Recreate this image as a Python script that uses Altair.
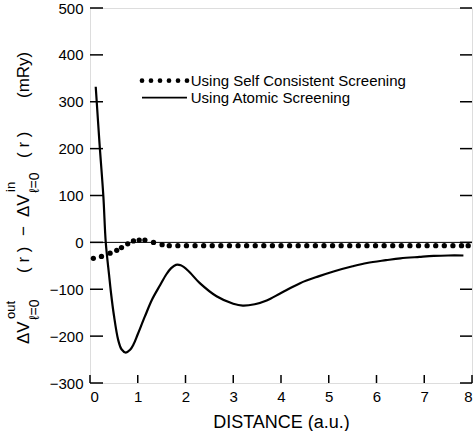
import altair as alt
import pandas as pd

# ---- data ----
atomic_x = [0.12, 0.20, 0.28, 0.33, 0.40, 0.44, 0.50, 0.59, 0.66, 0.75, 0.84, 0.91, 1.00,
            1.15, 1.30, 1.47, 1.60, 1.70, 1.80, 1.90, 2.05, 2.30, 2.65, 3.00, 3.20, 3.45,
            3.70, 4.00, 4.40, 4.80, 5.10, 5.50, 5.80, 6.20, 6.50, 6.90, 7.20, 7.50, 7.82]
atomic_y = [332, 210, 98, 0, -70, -108, -155, -208, -228, -235, -229, -218, -196,
            -158, -122, -91, -68, -55, -48, -49, -60, -87, -115, -131, -135, -132,
            -124, -108, -87, -72, -62, -51, -44, -38, -34, -31, -29, -28, -28]

scf_x = [0.07, 0.24, 0.42, 0.56, 0.66, 0.79, 0.91, 1.03, 1.15, 1.33, 1.51, 1.66,
         1.84, 2.02, 2.20, 2.38, 2.56, 2.74, 2.92, 3.10, 3.28, 3.46, 3.64, 3.82,
         4.00, 4.18, 4.36, 4.54, 4.72, 4.90, 5.08, 5.26, 5.44, 5.62, 5.80, 5.98,
         6.16, 6.34, 6.52, 6.70, 6.88, 7.06, 7.24, 7.42, 7.60, 7.78, 7.92]
scf_y = [-34, -30, -23, -17, -11, -3, 3, 5, 5, 0, -5, -7,
         -7, -7, -7, -7, -7, -7, -7, -7, -7, -7, -7, -7,
         -7, -7, -7, -7, -7, -7, -7, -7, -7, -7, -7, -7,
         -7, -7, -7, -7, -7, -7, -7, -7, -7, -7, -7]

x_ticks = [0, 1, 2, 3, 4, 5, 6, 7, 8]
y_ticks = [-300, -200, -100, 0, 100, 200, 300, 400, 500]

legend_labels = ["Using Self Consistent Screening", "Using Atomic Screening"]
x_title = "DISTANCE (a.u.)"

FONT = "Liberation Sans"
W, H = 382, 375

# legend anchors (data units)
leg_dot_x = [1.089, 1.277, 1.466, 1.654, 1.843, 2.031]
leg_dot_y = 345
leg_line_y = 309
leg_text_x = 2.11

xs = alt.Scale(domain=[0, 8], nice=False, zero=False)
ys = alt.Scale(domain=[-300, 500], nice=False, zero=False)

atomic = pd.DataFrame({"x": atomic_x, "y": atomic_y})
scf = pd.DataFrame({"x": scf_x, "y": scf_y})

line = alt.Chart(atomic).mark_line(
    color="black", strokeWidth=2.2, interpolate="catmull-rom"
).encode(
    x=alt.X("x:Q", scale=xs, axis=alt.Axis(
        values=x_ticks, ticks=False, domain=False, grid=False,
        labelFontSize=15, labelFont=FONT, labelColor="black", labelPadding=6,
        title=x_title, titleFont=FONT, titleFontSize=18, titleFontWeight="normal",
        titleColor="black", titlePadding=9)),
    y=alt.Y("y:Q", scale=ys, axis=alt.Axis(
        values=y_ticks, ticks=False, domain=False, grid=False,
        labelFontSize=15, labelFont=FONT, labelColor="black", labelPadding=7,
        title="")),
)

dots = alt.Chart(scf).mark_circle(color="black", size=28, opacity=1).encode(
    x=alt.X("x:Q", scale=xs), y=alt.Y("y:Q", scale=ys))

zero = alt.Chart(pd.DataFrame({"y": [0]})).mark_rule(
    color="black", strokeWidth=1).encode(y=alt.Y("y:Q", scale=ys))

ytk = pd.DataFrame({"y": y_ticks})
xtk = pd.DataFrame({"x": x_ticks})
left_ticks = alt.Chart(ytk).mark_rule(color="black", strokeWidth=1.5).encode(
    y=alt.Y("y:Q", scale=ys), x=alt.value(0), x2=alt.value(13))
right_ticks = alt.Chart(ytk).mark_rule(color="black", strokeWidth=1.5).encode(
    y=alt.Y("y:Q", scale=ys), x=alt.value(W), x2=alt.value(W - 12))
bottom_ticks = alt.Chart(xtk).mark_rule(color="black", strokeWidth=1.5).encode(
    x=alt.X("x:Q", scale=xs), y=alt.value(H), y2=alt.value(H - 8))

# legend
leg_dots = alt.Chart(pd.DataFrame({"x": leg_dot_x, "y": [leg_dot_y] * 6})).mark_circle(
    color="black", size=22, opacity=1).encode(
    x=alt.X("x:Q", scale=xs), y=alt.Y("y:Q", scale=ys))
leg_line = alt.Chart(pd.DataFrame({"x": [leg_dot_x[0], leg_dot_x[-1]],
                                   "y": [leg_line_y, leg_line_y]})).mark_line(
    color="black", strokeWidth=1.8).encode(
    x=alt.X("x:Q", scale=xs), y=alt.Y("y:Q", scale=ys))
leg_text = alt.Chart(pd.DataFrame({"x": [leg_text_x, leg_text_x],
                                   "y": [leg_dot_y, leg_line_y],
                                   "t": legend_labels})).mark_text(
    align="left", baseline="middle", font=FONT, fontSize=15, color="black").encode(
    x=alt.X("x:Q", scale=xs), y=alt.Y("y:Q", scale=ys), text="t:N")

# rotated y-axis title pieces: (text, x px, y px, font size)
title_pieces = [
    ("ΔV", -66, 336, 17),
    ("out", -79, 311, 13),
    ("ℓ=0", -55, 312, 14),
    ("( r )", -66, 265, 17),
    ("−", -66, 228, 17),
    ("ΔV", -66, 209, 17),
    ("in", -79, 184, 13),
    ("ℓ=0", -55, 185, 14),
    ("( r )", -66, 150, 17),
    ("(mRy)", -66, 90, 17),
]
title_layers = []
for t, px, py, fs in title_pieces:
    title_layers.append(
        alt.Chart(pd.DataFrame({"t": [t]})).mark_text(
            angle=270, align="left", baseline="middle", font=FONT,
            fontSize=fs, color="black").encode(
            x=alt.value(px), y=alt.value(py), text="t:N"))

chart = alt.layer(
    zero, left_ticks, right_ticks, bottom_ticks, line, dots,
    leg_dots, leg_line, leg_text, *title_layers
).properties(
    width=W, height=H,
    autosize=alt.AutoSizeParams(type="none"),
    padding={"left": 90, "top": 8, "right": 2, "bottom": 48},
).configure_view(stroke="black", strokeWidth=2.5).configure(background="white")

chart.save("out.html", embed_options={"renderer": "svg", "actions": False})
